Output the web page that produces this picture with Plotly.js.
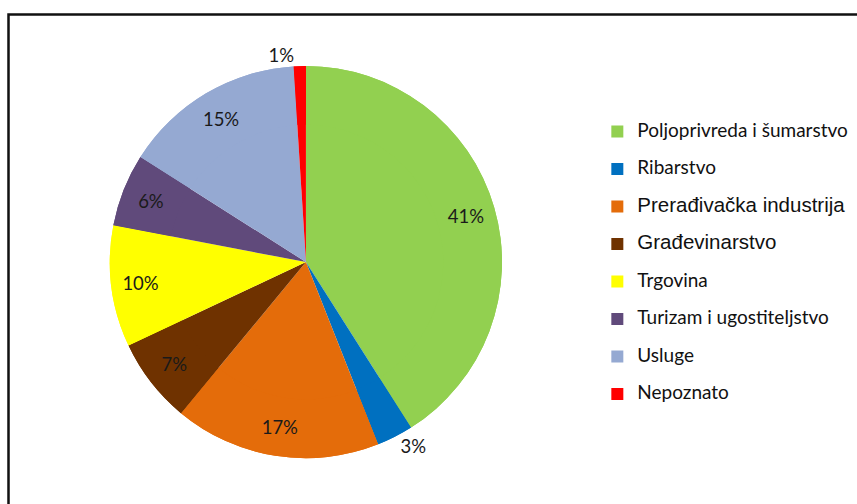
<!DOCTYPE html>
<html>
<head>
<meta charset="utf-8">
<script src="https://cdn.plot.ly/plotly-3.0.1.min.js"></script>
<style>html,body{margin:0;padding:0;background:#fff;}#chart{width:857px;height:504px;}</style>
</head>
<body>
<div id="chart"></div>
<script>
const labels = ["Poljoprivreda i šumarstvo", "Ribarstvo", "Prerađivačka industrija", "Građevinarstvo", "Trgovina", "Turizam i ugostiteljstvo", "Usluge", "Nepoznato"];
const values = [41, 3, 17, 7, 10, 6, 15, 1];
const colors = ["#92D050", "#0070C0", "#E46C0A", "#6F3200", "#FFFF00", "#604A7B", "#95A9D2", "#FF0000"];

const bigLegend = new Set(["Prerađivačka industrija", "Građevinarstvo"]);
const legendNames = labels.map(l => bigLegend.has(l)
  ? '<span style="font-family:\'Liberation Sans\', Arial; font-size:20.5px">' + l + '</span><br> '
  : '<span style="font-size:19px">' + l + '</span><br> ');
const pcts = values.map(v => v + '%');
const textPos = values.map(v => v < 5 ? 'outside' : 'inside');

const domain = {x: [0.128, 0.586], y: [0.091, 0.869]};

const base = {
  type: 'pie', values: values, labels: legendNames, sort: false, direction: 'clockwise',
  marker: {colors: colors, line: {width: 0}}, textinfo: 'none', showlegend: false,
  hoverinfo: 'skip', domain: domain
};
const ring = {
  type: 'pie', values: values, labels: legendNames, sort: false, direction: 'clockwise',
  hole: 0.7, marker: {colors: colors, line: {width: 0}},
  text: pcts, textinfo: 'text', textposition: textPos, insidetextorientation: 'horizontal',
  textfont: {family: 'Lato, sans-serif', size: 18.5, color: '#1a1a1a'},
  outsidetextfont: {family: 'Lato, sans-serif', size: 18.5, color: '#1a1a1a'},
  domain: domain
};

const layout = {
  width: 857, height: 504,
  margin: {l: 0, r: 0, t: 0, b: 0},
  paper_bgcolor: '#fff',
  showlegend: true,
  legend: {x: 0.697, y: 0.769, xanchor: 'left', yanchor: 'top', valign: 'top',
    font: {family: 'Lato, sans-serif', size: 13.27, color: '#111'}, itemwidth: 30},
  shapes: [{type: 'rect', xref: 'paper', yref: 'paper', x0: 8.5/857, x1: 1.05, y0: -0.05, y1: 1 - 14.5/504,
    line: {color: '#111', width: 2.5}}]
};
Plotly.newPlot('chart', [base, ring], layout, {staticPlot: true});
</script>
</body>
</html>
